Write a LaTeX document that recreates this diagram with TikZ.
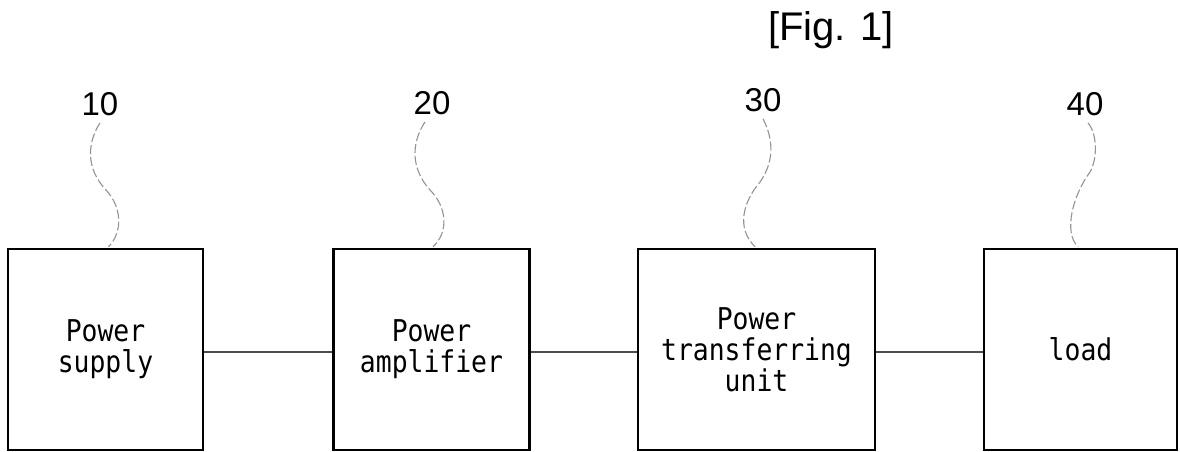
\documentclass[tikz,border=0pt]{standalone}
\usepackage{fontspec}
\setmainfont{Liberation Sans}
\newfontfamily\boxfont[FakeStretch=0.88]{DejaVu Sans Mono}
\usetikzlibrary{calc}
\tikzset{
  blockbox/.style={draw=black, line width=2.4pt, minimum width=195pt, minimum height=201pt, inner sep=0pt,
    align=center, font=\boxfont\fontsize{30}{31}\selectfont},
  refnum/.style={inner sep=0pt, font=\fontsize{33}{36}\selectfont},
  squiggle/.style={draw=gray!85, line width=1.1pt, dash pattern=on 9pt off 3pt},
  link/.style={draw=black!70, line width=1.5pt}
}
\begin{document}
\begin{tikzpicture}[x=1pt,y=-1pt]
\useasboundingbox (0,0) rectangle (1180,452);
\fill[white] (0,0) rectangle (1180,452);
\node[inner sep=0pt, font=\fontsize{40}{44}\selectfont] (fig) at (831,30) {[Fig. 1]};

\node[blockbox] (b1) at (105.5,349.5) {Power\\supply};
\node[blockbox, minimum width=196pt] (b2) at (431.5,349.5) {Power\\amplifier};
\node[blockbox, minimum width=237pt] (b3) at (756.5,349.5) {Power\\transferring\\unit};
\node[blockbox, minimum width=193pt] (b4) at (1080.5,349.5) {load};

\node[refnum] (l1) at (100,104) {10};
\node[refnum] (l2) at (432,103) {20};
\node[refnum] (l3) at (763,100) {30};
\node[refnum] (l4) at (1085,104) {40};

\draw[link] ([yshift=-2.5pt]b1.east) -- ([yshift=-2.5pt]b2.west);
\draw[link] ([yshift=-2.5pt]b2.east) -- ([yshift=-2.5pt]b3.west);
\draw[link] ([yshift=-2.5pt]b3.east) -- ([yshift=-2.5pt]b4.west);

\draw[squiggle] ($(l1.south)+(0,7)$) .. controls (86,145) and (87,170) .. (106,190)
   .. controls (122,207) and (123,232) .. ($(b1.north)+(3,-1)$);
\draw[squiggle] ($(l2.south)+(-7,7)$) .. controls (410,145) and (412,170) .. (430,190)
   .. controls (447,207) and (449,232) .. ($(b2.north)+(1.5,-1)$);
\draw[squiggle] ($(l3.south)+(0,7)$) .. controls (774,140) and (774,162) .. (760,182)
   .. controls (743,202) and (736,228) .. ($(b3.north)+(-1.5,-1)$);
\draw[squiggle] ($(l4.south)+(3,7)$) .. controls (1098,135) and (1097,160) .. (1090,172)
   .. controls (1073,195) and (1063,232) .. ($(b4.north)+(-2.5,-1)$);
\end{tikzpicture}
\end{document}
